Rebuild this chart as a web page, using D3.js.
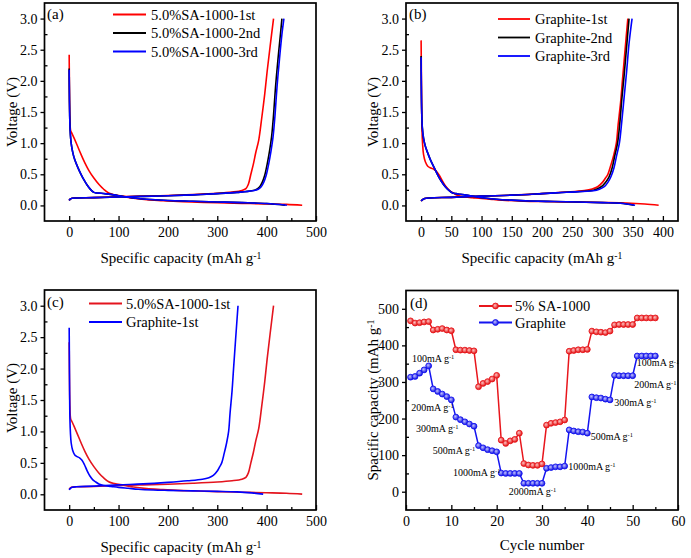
<!DOCTYPE html>
<html><head><meta charset="utf-8">
<script src="https://cdn.jsdelivr.net/npm/d3@7"></script>
<style>
body{margin:0;background:#fff}
svg{display:block}
text{font-family:"Liberation Serif","Times New Roman",serif;fill:#000}
</style>
</head><body>
<svg id="chart" width="691" height="558"></svg>
<script>
// ---------- DATA ----------
// Panel (a): 5.0%SA-1000, [capacity mAh/g, voltage V]
const sa1stDischarge = [[0,2.42],[0.3,2.1],[0.8,1.7],[1.5,1.4],[3,1.2],[6,1.15],[10,1.08],[16,0.97],[24,0.82],[32,0.68],[40,0.56],[50,0.44],[60,0.34],[70,0.26],[80,0.2],[92,0.17],[110,0.145],[130,0.115],[157,0.09],[190,0.075],[220,0.062],[260,0.052],[300,0.042],[350,0.033],[400,0.025],[440,0.017],[472,0.003]];
const sa1stCharge = [[0,0.08],[2,0.1],[6,0.115],[15,0.12],[50,0.125],[100,0.14],[150,0.15],[200,0.16],[250,0.175],[300,0.195],[330,0.215],[350,0.24],[358,0.27],[363,0.34],[368,0.5],[373,0.66],[378,0.85],[384,1.05],[390,1.4],[396,1.78],[401,2.15],[407,2.55],[414,3.0]];
const sa2ndDischarge = [[0,2.2],[0.3,1.9],[1,1.45],[2,1.2],[4,1.0],[7,0.86],[11,0.74],[17,0.62],[24,0.5],[30,0.41],[37,0.32],[44,0.25],[50,0.21],[55,0.2],[65,0.195],[76,0.185],[90,0.17],[105,0.15],[120,0.13],[140,0.11],[165,0.095],[200,0.08],[250,0.068],[300,0.056],[350,0.045],[400,0.03],[437,0.003]];
const sa2ndCharge = [[0,0.08],[2,0.1],[6,0.115],[15,0.12],[50,0.125],[100,0.135],[150,0.145],[200,0.155],[250,0.17],[300,0.19],[340,0.21],[370,0.235],[380,0.26],[386,0.3],[391,0.37],[396,0.48],[401,0.66],[406,0.88],[410,1.1],[414,1.45],[418,1.9],[423,2.35],[428,2.75],[431,3.0]];
const sa3rdDischarge = [[0,2.18],[0.3,1.9],[1,1.45],[2,1.2],[4,1.0],[7,0.86],[11,0.74],[17,0.62],[24,0.5],[30,0.41],[37,0.32],[44,0.25],[50,0.21],[55,0.2],[65,0.195],[76,0.185],[90,0.17],[105,0.15],[120,0.13],[140,0.11],[165,0.095],[200,0.08],[250,0.068],[300,0.056],[350,0.045],[400,0.03],[441,0.003]];
const sa3rdCharge = [[0,0.08],[2,0.1],[6,0.115],[15,0.12],[50,0.125],[100,0.135],[150,0.145],[200,0.155],[250,0.17],[300,0.19],[340,0.21],[372,0.235],[383,0.26],[389,0.3],[394,0.37],[399,0.48],[404,0.66],[409,0.88],[413,1.1],[417,1.45],[421,1.9],[426,2.35],[431,2.75],[435,3.0]];

// Panel (b): Graphite
const gr1stDischarge = [[0,2.65],[0.3,2.3],[0.8,1.7],[1.5,1.2],[2.5,0.98],[4,0.82],[7,0.7],[11,0.63],[16,0.6],[21,0.58],[26,0.54],[31,0.47],[36,0.38],[42,0.29],[48,0.23],[54,0.195],[60,0.165],[70,0.14],[85,0.125],[100,0.11],[120,0.095],[140,0.08],[170,0.068],[200,0.062],[250,0.055],[300,0.047],[340,0.038],[370,0.022],[393,0.003]];
const gr1stCharge = [[0,0.07],[2,0.09],[6,0.11],[15,0.12],[50,0.13],[100,0.15],[150,0.165],[200,0.19],[240,0.215],[270,0.24],[283,0.265],[292,0.3],[300,0.37],[305,0.44],[309,0.5],[314,0.65],[319,0.82],[323,1.0],[326,1.3],[330,1.65],[333,2.0],[337,2.45],[342,3.0]];
const gr2ndDischarge = [[0,2.4],[0.3,2.0],[1,1.5],[2,1.25],[4,1.08],[7,0.95],[11,0.84],[16,0.72],[22,0.6],[28,0.48],[34,0.38],[40,0.3],[46,0.24],[52,0.2],[58,0.19],[65,0.18],[75,0.165],[90,0.14],[105,0.12],[125,0.1],[150,0.085],[180,0.072],[220,0.062],[260,0.055],[300,0.045],[330,0.035],[352,0.003]];
const gr2ndCharge = [[0,0.07],[2,0.09],[6,0.11],[15,0.12],[50,0.13],[100,0.15],[150,0.165],[200,0.19],[240,0.212],[280,0.235],[290,0.26],[298,0.3],[305,0.37],[311,0.46],[316,0.6],[320,0.78],[325,1.0],[329,1.35],[332,1.7],[336,2.1],[340,2.55],[344,3.0]];
const gr3rdDischarge = [[0,2.38],[0.3,2.0],[1,1.5],[2,1.25],[4,1.08],[7,0.95],[11,0.84],[16,0.72],[22,0.6],[28,0.48],[34,0.38],[40,0.3],[46,0.24],[52,0.2],[58,0.19],[65,0.18],[75,0.165],[90,0.14],[105,0.12],[125,0.1],[150,0.085],[180,0.072],[220,0.062],[260,0.055],[300,0.045],[330,0.035],[354,0.003]];
const gr3rdCharge = [[0,0.07],[2,0.09],[6,0.11],[15,0.12],[50,0.13],[100,0.15],[150,0.165],[200,0.19],[240,0.212],[285,0.235],[295,0.26],[303,0.3],[309,0.37],[314,0.46],[319,0.6],[323,0.78],[328,1.0],[332,1.35],[336,1.75],[340,2.15],[344,2.6],[349,3.0]];

// Panel (d): rate capability
const cycleNumbers = [1,2,3,4,5,6,7,8,9,10,11,12,13,14,15,16,17,18,19,20,21,22,23,24,25,26,27,28,29,30,31,32,33,34,35,36,37,38,39,40,41,42,43,44,45,46,47,48,49,50,51,52,53,54,55];
const saRateCapacity = [467,461,462,464,465, 442,444,446,442,440, 388,387,387,386,385, 287,296,301,308,318, 141,132,139,143,160, 77,73,72,72,76, 182,187,189,191,196, 384,386,388,388,389, 439,437,436,435,439, 456,457,457,457,457, 475,475,475,475,475];
const grRateCapacity = [313,315,324,333,344, 281,274,267,260,251, 204,197,191,185,179, 126,120,115,112,109, 51,50,50,50,50, 23,23,23,23,23, 64,66,68,68,70, 169,166,164,163,160, 259,257,256,253,251, 318,317,317,317,317, 371,371,371,371,371];
const rateLabels = ["100mA g","200mA g","300mA g","500mA g","1000mA g","2000mA g","1000mA g","500mA g","300mA g","200mA g","100mA g"];
const rateLabelCycle = [6.0,5.85,6.9,10.6,15.6,27.9,41.0,45.4,50.6,55.0,55.6];
const rateLabelCap = [364,231,174,114,52,0,70,150,243,293,352];

// Tick values
const capTicksA = [0,100,200,300,400,500];
const capMinorA = [50,150,250,350,450];
const capTicksB = [0,50,100,150,200,250,300,350,400];
const capMinorB = [25,75,125,175,225,275,325,375];
const voltTicks = [0,0.5,1.0,1.5,2.0,2.5,3.0];
const voltMinor = [0.25,0.75,1.25,1.75,2.25,2.75];
const cycleTicks = [0,10,20,30,40,50,60];
const cycleMinor = [5,15,25,35,45,55];
const rateCapTicks = [0,100,200,300,400,500];
const rateCapMinor = [50,150,250,350,450];

// ---------- DRAW ----------
const svg = d3.select('#chart');
const defs = svg.append('defs');
const RED = '#ff0000', BLUE = '#0000ff', BLACK = '#000000';

function makePanel(p) {
  const g = svg.append('g');
  const x = d3.scaleLinear().domain(p.xDomain).range([p.l, p.r]);
  const y = d3.scaleLinear().domain(p.yDomain).range([p.b, p.t]);
  defs.append('clipPath').attr('id', 'clip-' + p.name)
    .append('rect').attr('x', p.l).attr('y', p.t).attr('width', p.r - p.l).attr('height', p.b - p.t);
  const style = sel => {
    sel.select('.domain').remove();
    sel.selectAll('line').attr('stroke', '#000').attr('stroke-width', 1.3);
    sel.selectAll('text').style('font-size', '14px').attr('fill', '#000');
  };
  g.append('g').attr('transform', `translate(0,${p.b})`)
    .call(d3.axisBottom(x).tickValues(p.xTicks).tickSize(-5).tickPadding(6).tickFormat(p.xFmt)).call(style);
  g.append('g').attr('transform', `translate(0,${p.b})`)
    .call(d3.axisBottom(x).tickValues(p.xMinor).tickSize(-3).tickFormat('')).call(style);
  g.append('g').attr('transform', `translate(${p.l},0)`)
    .call(d3.axisLeft(y).tickValues(p.yTicks).tickSize(4).tickPadding(3).tickFormat(p.yFmt)).call(style);
  g.append('g').attr('transform', `translate(${p.l},0)`)
    .call(d3.axisLeft(y).tickValues(p.yMinor).tickSize(-3).tickFormat('')).call(style);
  const plot = g.append('g').attr('clip-path', `url(#clip-${p.name})`);
  return {g, x, y, plot, p};
}

function frame(P) {
  const p = P.p;
  P.g.append('rect').attr('x', p.l).attr('y', p.t).attr('width', p.r - p.l).attr('height', p.b - p.t)
    .attr('fill', 'none').attr('stroke', '#000').attr('stroke-width', 1.7);
}

function drawCurve(P, data, color, w) {
  const line = d3.line().x(d => P.x(d[0])).y(d => P.y(d[1])).curve(d3.curveCatmullRom.alpha(0.5));
  P.plot.append('path').datum(data).attr('d', line).attr('fill', 'none')
    .attr('stroke', color).attr('stroke-width', w || 1.6).attr('stroke-linejoin', 'round');
}

function supText(sel, main, sup) {
  sel.append('tspan').text(main);
  sel.append('tspan').text(sup).attr('dy', '-0.45em').style('font-size', '0.65em');
}

function xTitle(P, cx, by, label, sup) {
  const t = P.g.append('text').attr('x', cx).attr('y', by).attr('text-anchor', 'middle').style('font-size', '15px');
  if (sup) supText(t, label, sup); else t.text(label);
}
function yTitle(P, cx, cy, label, sup) {
  const t = P.g.append('text').attr('transform', `translate(${cx},${cy}) rotate(-90)`)
    .attr('text-anchor', 'middle').attr('dy', '0.35em').style('font-size', '15px');
  if (sup) supText(t, label, sup); else t.text(label);
}
function panelTag(P, x, y, s) {
  P.g.append('text').attr('x', x).attr('y', y).attr('dy', '0.35em').style('font-size', '15px').text(s);
}
function legend(P, items, x0, x1, xt, ys, marker) {
  items.forEach((it, i) => {
    P.g.append('line').attr('x1', x0).attr('x2', x1).attr('y1', ys[i]).attr('y2', ys[i])
      .attr('stroke', it.color).attr('stroke-width', 1.8);
    if (marker) dot(P.g, (x0 + x1) / 2, ys[i], it.color, it.grad);
    P.g.append('text').attr('x', xt).attr('y', ys[i]).attr('dy', '0.35em').style('font-size', '14.5px').text(it.label);
  });
}

// gradients for ball markers
[['gradRed', '#ffc0c0', '#e01010'], ['gradBlue', '#c0c0ff', '#1010e0']].forEach(([id, c0, c1]) => {
  const rg = defs.append('radialGradient').attr('id', id).attr('cx', '40%').attr('cy', '40%').attr('r', '60%');
  rg.append('stop').attr('offset', '0%').attr('stop-color', c0);
  rg.append('stop').attr('offset', '100%').attr('stop-color', c1);
});
function dot(g, cx, cy, color, grad) {
  g.append('circle').attr('cx', cx).attr('cy', cy).attr('r', 2.9)
    .attr('fill', `url(#${grad})`).attr('stroke', color).attr('stroke-width', 0.9);
}

const fmt1 = d3.format('.1f');
const fmt0 = d3.format('d');

// Panel (a)
const A = makePanel({name: 'a', l: 44.5, r: 316, t: 3, b: 221, xDomain: [-50, 500], yDomain: [-0.25, 3.25],
  xTicks: capTicksA, xMinor: capMinorA, yTicks: voltTicks, yMinor: voltMinor, xFmt: fmt0, yFmt: fmt1});
drawCurve(A, sa1stDischarge, RED); drawCurve(A, sa1stCharge, RED);
drawCurve(A, sa2ndDischarge, BLACK); drawCurve(A, sa2ndCharge, BLACK);
drawCurve(A, sa3rdDischarge, BLUE); drawCurve(A, sa3rdCharge, BLUE);
frame(A);
panelTag(A, 47, 14, '(a)');
legend(A, [{label: '5.0%SA-1000-1st', color: RED}, {label: '5.0%SA-1000-2nd', color: BLACK}, {label: '5.0%SA-1000-3rd', color: BLUE}],
  113, 146, 151, [14.5, 33, 51.5]);
xTitle(A, 181, 263, 'Specific capacity (mAh g', '-1');
A.g.select('text:last-child');
yTitle(A, 12, 112, 'Voltage (V)');

// Panel (b)
const B = makePanel({name: 'b', l: 406, r: 678, t: 3, b: 221, xDomain: [-25, 425], yDomain: [-0.25, 3.25],
  xTicks: capTicksB, xMinor: capMinorB, yTicks: voltTicks, yMinor: voltMinor, xFmt: fmt0, yFmt: fmt1});
drawCurve(B, gr1stDischarge, RED); drawCurve(B, gr1stCharge, RED);
drawCurve(B, gr2ndDischarge, BLACK); drawCurve(B, gr2ndCharge, BLACK);
drawCurve(B, gr3rdDischarge, BLUE); drawCurve(B, gr3rdCharge, BLUE);
frame(B);
panelTag(B, 409, 14, '(b)');
legend(B, [{label: 'Graphite-1st', color: RED}, {label: 'Graphite-2nd', color: BLACK}, {label: 'Graphite-3rd', color: BLUE}],
  498, 530, 535, [19, 37.5, 56]);
xTitle(B, 542, 263, 'Specific capacity (mAh g', '-1');
yTitle(B, 373, 112, 'Voltage (V)');

// Panel (c)
const C = makePanel({name: 'c', l: 44.5, r: 316, t: 290, b: 510, xDomain: [-50, 500], yDomain: [-0.25, 3.25],
  xTicks: capTicksA, xMinor: capMinorA, yTicks: voltTicks, yMinor: voltMinor, xFmt: fmt0, yFmt: fmt1});
const RED_C = '#e4141e';
drawCurve(C, sa1stDischarge, RED_C); drawCurve(C, sa1stCharge, RED_C);
drawCurve(C, gr1stDischarge, BLUE); drawCurve(C, gr1stCharge, BLUE);
frame(C);
panelTag(C, 47, 302, '(c)');
legend(C, [{label: '5.0%SA-1000-1st', color: RED_C}, {label: 'Graphite-1st', color: BLUE}], 89, 122, 126, [303.5, 322]);
xTitle(C, 181, 552, 'Specific capacity (mAh g', '-1');
yTitle(C, 12, 398, 'Voltage (V)');

// Panel (d)
const D = makePanel({name: 'd', l: 406, r: 678, t: 290.5, b: 510, xDomain: [0, 60], yDomain: [-50, 550],
  xTicks: cycleTicks, xMinor: cycleMinor, yTicks: rateCapTicks, yMinor: rateCapMinor, xFmt: fmt0, yFmt: fmt0});
const RED_D = '#e8161c', BLUE_D = '#1414f0';
[[saRateCapacity, RED_D, 'gradRed'], [grRateCapacity, BLUE_D, 'gradBlue']].forEach(([vals, color, grad]) => {
  const pts = cycleNumbers.map((c, i) => [c, vals[i]]);
  D.plot.append('path').datum(pts)
    .attr('d', d3.line().x(d => D.x(d[0])).y(d => D.y(d[1])))
    .attr('fill', 'none').attr('stroke', color).attr('stroke-width', 1.5);
  pts.forEach(d => dot(D.plot, D.x(d[0]), D.y(d[1]), color, grad));
});
rateLabels.forEach((s, i) => {
  const t = D.g.append('text').attr('x', D.x(rateLabelCycle[i])).attr('y', D.y(rateLabelCap[i]))
    .attr('text-anchor', 'middle').attr('dy', '0.35em').style('font-size', '10px');
  supText(t, s, '-1');
});
frame(D);
panelTag(D, 410, 303, '(d)');
legend(D, [{label: '5% SA-1000', color: RED_D, grad: 'gradRed'}, {label: 'Graphite', color: BLUE_D, grad: 'gradBlue'}],
  479, 512, 515, [306, 322.5], true);
xTitle(D, 542, 550, 'Cycle number');
yTitle(D, 373, 400, 'Spacific capacity (mAh g', '-1');
</script>
</body></html>
